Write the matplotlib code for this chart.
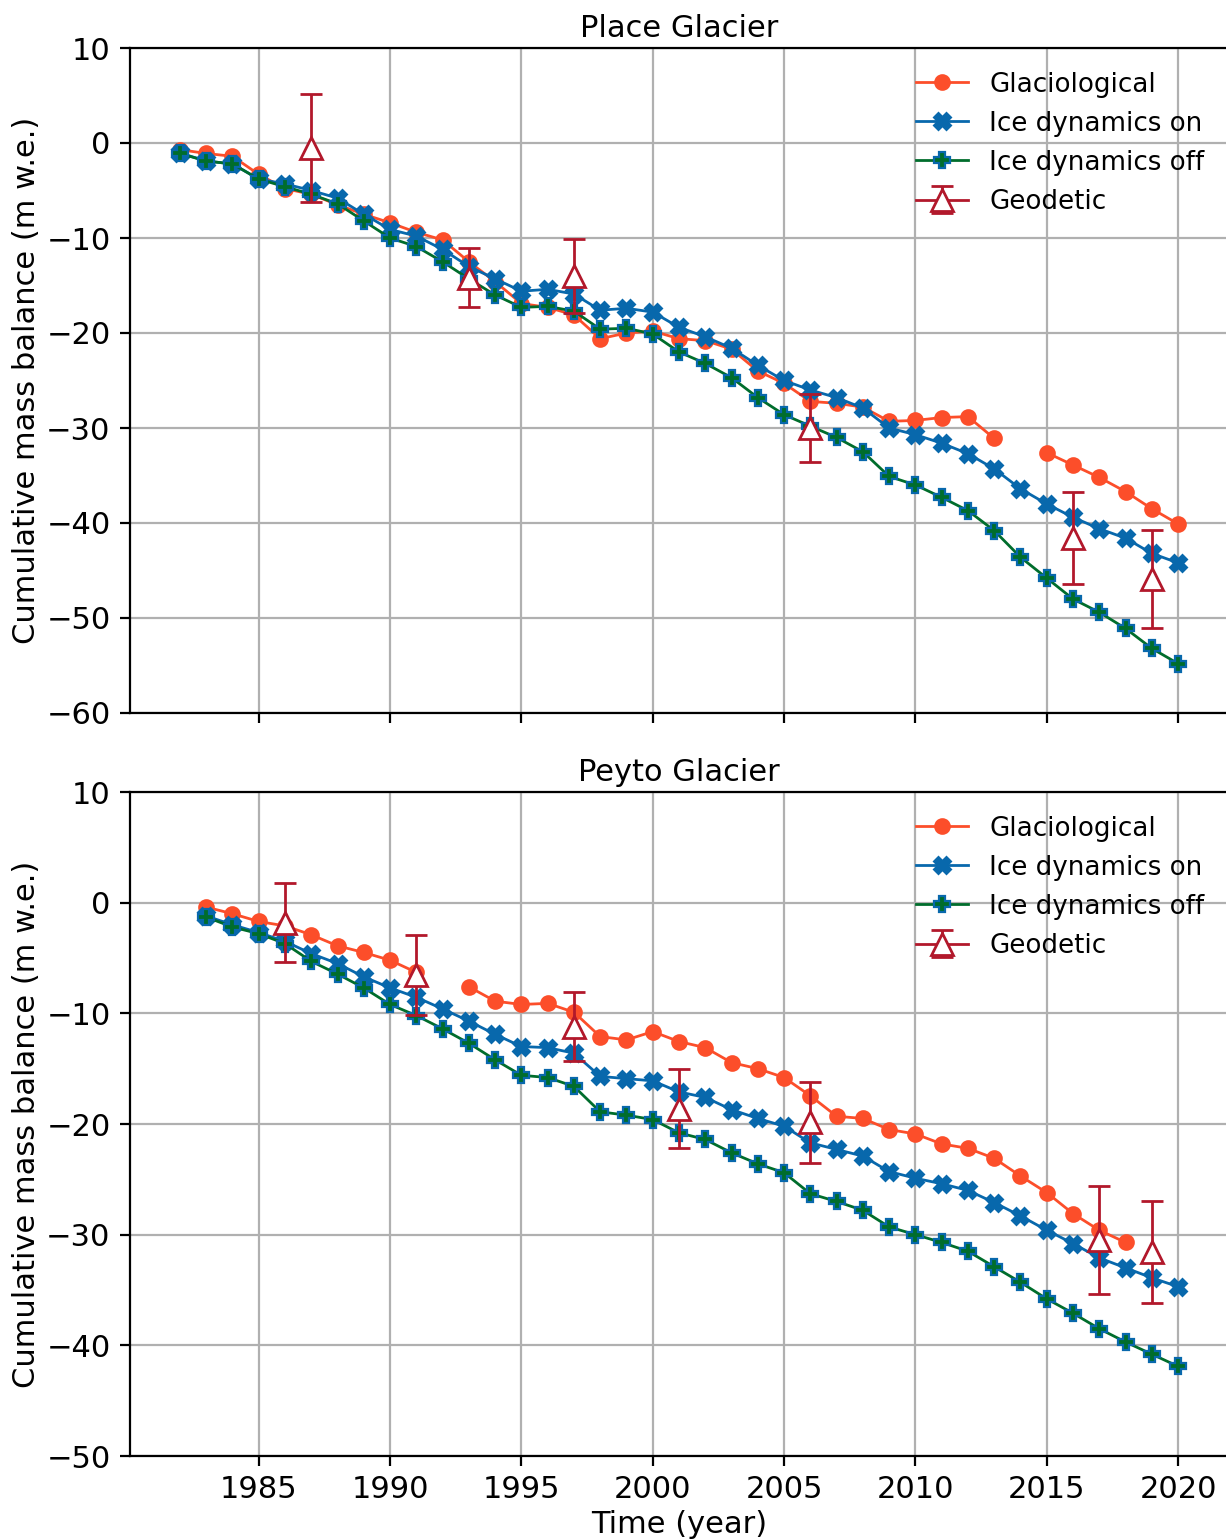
import numpy as np
import matplotlib
matplotlib.use("Agg")
import matplotlib.pyplot as plt

nan = np.nan

# ---------------- Place Glacier ----------------
place_years = list(range(1982, 2021))
place_glacio = [-0.7, -1.1, -1.4, -3.3, -4.8, -5.4, -6.5, -7.5, -8.4, -9.4,
                -10.2, -12.5, -14.6, -16.9, -17.3, -18.1, -20.6, -20.0, -19.8,
                -20.6, -20.8, -21.7, -24.0, -25.3, -27.2, -27.4, -27.8, -29.3,
                -29.2, -28.9, -28.8, -31.1, nan, -32.6, -33.9, -35.2, -36.7,
                -38.5, -40.1]
place_on = [-1.05, -1.9, -2.2, -3.8, -4.3, -5.0, -5.8, -7.5, -9.1, -9.8,
            -11.2, -13.0, -14.3, -15.6, -15.4, -15.9, -17.6, -17.4, -17.8,
            -19.4, -20.4, -21.6, -23.4, -25.0, -26.0, -26.8, -27.9, -30.0,
            -30.7, -31.6, -32.7, -34.3, -36.4, -38.0, -39.4, -40.6, -41.6,
            -43.2, -44.2]
place_off = [-1.1, -1.9, -2.2, -3.8, -4.6, -5.4, -6.4, -8.2, -10.0, -10.9,
             -12.5, -14.3, -16.0, -17.3, -17.2, -17.7, -19.6, -19.5, -20.1,
             -22.0, -23.2, -24.7, -26.8, -28.6, -29.8, -31.0, -32.5, -35.1,
             -36.0, -37.3, -38.7, -40.8, -43.6, -45.8, -48.0, -49.4, -51.1,
             -53.2, -54.8]
place_geo_years = [1987, 1993, 1997, 2006, 2016, 2019]
place_geo = [-0.5, -14.2, -14.0, -30.0, -41.6, -45.9]
place_geo_err = [5.7, 3.1, 3.9, 3.6, 4.85, 5.2]

# ---------------- Peyto Glacier ----------------
peyto_years = list(range(1983, 2021))
peyto_glacio = [-0.4, -1.0, -1.7, -2.1, -2.9, -3.9, -4.5, -5.2, -6.3, nan,
                -7.6, -8.9, -9.2, -9.1, -9.9, -12.1, -12.4, -11.65, -12.55,
                -13.1, -14.45, -15.0, -15.8, -17.45, -19.3, -19.5, -20.5,
                -20.9, -21.8, -22.2, -23.1, -24.7, -26.2, -28.1, -29.6, -30.7,
                nan, nan]
peyto_on = [-1.2, -2.0, -2.7, -3.5, -4.6, -5.5, -6.7, -7.7, -8.55, -9.6,
            -10.7, -11.9, -13.0, -13.1, -13.6, -15.7, -15.9, -16.1,
            -17.1, -17.6, -18.7, -19.5, -20.2, -21.7, -22.3, -22.9, -24.3,
            -24.9, -25.4, -26.0, -27.1, -28.3, -29.6, -30.8, -32.1, -33.0,
            -33.9, -34.7]
peyto_off = [-1.3, -2.2, -2.8, -3.7, -5.3, -6.45, -7.7, -9.2, -10.2, -11.4,
             -12.7, -14.2, -15.6, -15.8, -16.6, -18.9, -19.2, -19.6,
             -20.8, -21.4, -22.6, -23.6, -24.4, -26.3, -27.0, -27.8, -29.3,
             -30.0, -30.7, -31.5, -32.9, -34.3, -35.8, -37.1, -38.5, -39.7,
             -40.8, -41.9]
peyto_geo_years = [1986, 1991, 1997, 2001, 2006, 2017, 2019]
peyto_geo = [-1.8, -6.55, -11.2, -18.6, -19.85, -30.5, -31.6]
peyto_geo_err = [3.6, 3.6, 3.1, 3.55, 3.65, 4.9, 4.6]

titles = ["Place Glacier", "Peyto Glacier"]
ylims = [(-60, 10), (-50, 10)]
xticks = [1985, 1990, 1995, 2000, 2005, 2010, 2015, 2020]

C_GLAC = "#fc4e2a"
C_ON = "#0868ac"
C_OFF = "#006d2c"
C_GEO = "#b2182b"

W, H = 1226, 1539
DPI = 200
fig = plt.figure(figsize=(W / DPI, H / DPI), dpi=DPI)

FS = 11.0
LEG_FS = 9.4

right = 1228 / W
left = 130 / W
ax1 = fig.add_axes([left, 1 - 713 / H, right - left, (713 - 48) / H])
ax2 = fig.add_axes([left, 1 - 1456 / H, right - left, (1456 - 792) / H], sharex=ax1)

datasets = [
    (place_years, place_glacio, place_on, place_off, place_geo_years, place_geo, place_geo_err),
    (peyto_years, peyto_glacio, peyto_on, peyto_off, peyto_geo_years, peyto_geo, peyto_geo_err),
]

for i, (ax, d) in enumerate(zip([ax1, ax2], datasets)):
    yrs, gl, on, off, gy, gv, ge = d
    ax.set_axisbelow(True)
    ax.grid(True, color="#b0b0b0", linewidth=0.8)
    ax.plot(yrs, gl, "-o", color=C_GLAC, lw=1.0, ms=5, label="Glaciological", zorder=3)
    ax.plot(yrs, on, "-X", color=C_ON, lw=1.0, ms=5.5, label="Ice dynamics on", zorder=4)
    ax.plot(yrs, off, "-P", color=C_OFF, mec=C_ON, mew=0.8, lw=1.0, ms=5.5,
            label="Ice dynamics off", zorder=5)
    eb = ax.errorbar(gy, gv, yerr=ge, fmt="-^", color=C_GEO, mfc="white", mec=C_GEO,
                     ms=8, mew=1.0, lw=1.0, elinewidth=1.0, capsize=4, capthick=1.0,
                     label="Geodetic", zorder=6)
    ax.set_ylim(*ylims[i])
    ax.set_yticks(np.arange(ylims[i][0], ylims[i][1] + 1, 10))
    ax.set_title(titles[i], fontsize=FS, pad=4)
    ax.set_ylabel("Cumulative mass balance (m w.e.)", fontsize=FS, labelpad=2)
    ax.tick_params(labelsize=FS)
    ax.legend(loc="upper right", frameon=False, fontsize=LEG_FS)
    # the legend keeps its connecting line; the plotted geodetic points stay unconnected
    eb[0].set_linestyle("none")

ax1.set_xticks(xticks)
ax1.tick_params(axis="x", labelbottom=False)
ax2.set_xlabel("Time (year)", fontsize=FS, labelpad=2)

fig.savefig("out.png", dpi=DPI)
